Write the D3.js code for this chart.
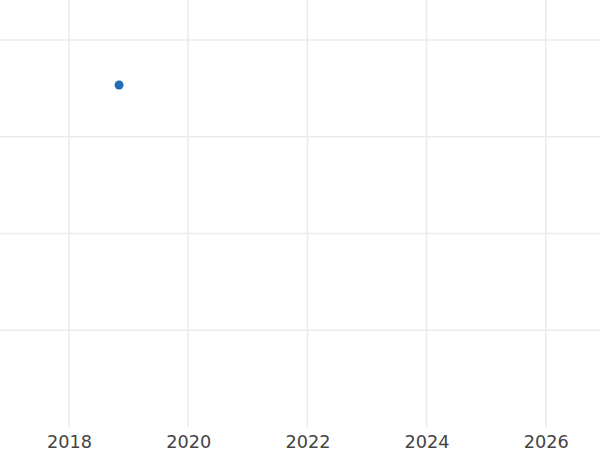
<!DOCTYPE html>
<html><head><meta charset="utf-8">
<script src="https://cdn.jsdelivr.net/npm/d3@7"></script>
<style>body{margin:0;background:#fff}svg{display:block}</style>
</head><body><svg id="c" width="600" height="450"></svg>
<script>
const xTicks = [2018, 2020, 2022, 2024, 2026];
const yTicks = [1, 2, 3, 4];
const pointX = [2018.84];
const pointY = [3.535];

const W = 600, H = 450;
const svg = d3.select("#c");
const x = d3.scaleLinear().domain([2016.842, 2026.91]).range([0, W]);
const y = d3.scaleLinear().domain([0, 4.413]).range([427, 0]);

const g = svg.append("g");
g.selectAll("line.h").data(yTicks).join("line")
  .attr("x1", 0).attr("x2", W)
  .attr("y1", d => y(d)).attr("y2", d => y(d))
  .attr("stroke", "#ebebeb").attr("stroke-width", 1.6);
g.selectAll("line.v").data(xTicks).join("line")
  .attr("x1", d => x(d)).attr("x2", d => x(d))
  .attr("y1", 0).attr("y2", 427)
  .attr("stroke", "#ebebeb").attr("stroke-width", 1.6);

const xAxis = d3.axisBottom(x).tickValues(xTicks).tickFormat(d3.format("d")).tickSize(0).tickPadding(6);
const ax = svg.append("g").attr("transform", "translate(0,427)").call(xAxis);
ax.select(".domain").remove();
ax.selectAll("text").attr("font-family", "DejaVu Sans").attr("font-size", 17.7)
  .attr("fill", "#444").attr("y", 20.5).attr("dy", 0);

svg.selectAll("circle").data(pointX.map((v, i) => [v, pointY[i]])).join("circle")
  .attr("cx", d => x(d[0])).attr("cy", d => y(d[1])).attr("r", 4.5)
  .attr("fill", "#1f6fb4");
</script></body></html>
